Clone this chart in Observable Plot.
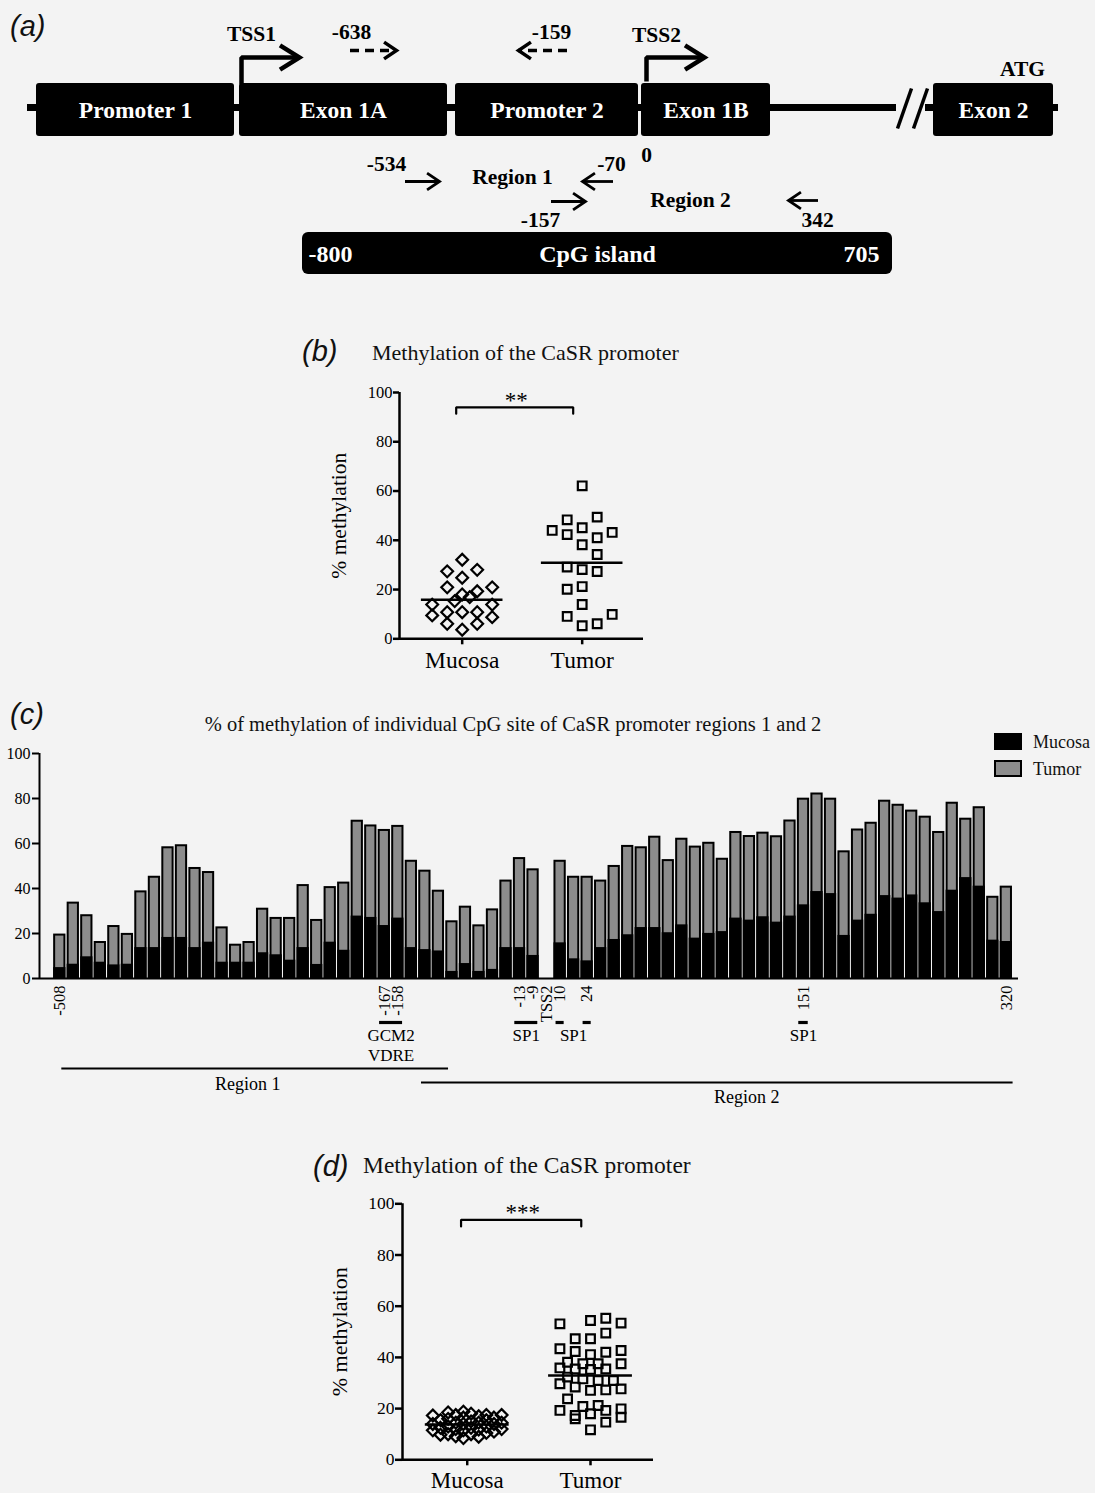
<!DOCTYPE html>
<html>
<head>
<meta charset="utf-8">
<script src="https://cdn.jsdelivr.net/npm/d3@7"></script>
<script src="https://cdn.jsdelivr.net/npm/@observablehq/plot@0.6"></script>
<style>
html,body{margin:0;padding:0;background:#f3f3f3;}
#page{position:relative;width:1095px;height:1493px;overflow:hidden;background:#f3f3f3;}
#page > svg{position:absolute;}
</style>
</head>
<body>
<div id="page"></div>
<script>
// ================= DATA =================
// ---- panel (a): schematic of the CaSR 5' region (schematic units) ----
const aGeneBoxes = [
  {label: "Promoter 1", start: 36, end: 234},
  {label: "Exon 1A", start: 239, end: 447},
  {label: "Promoter 2", start: 455, end: 638},
  {label: "Exon 1B", start: 641, end: 770},
  {label: "Exon 2", start: 933, end: 1053}
];
const aBackbone = [{start: 27, end: 896}, {start: 925, end: 1058}];
const aBreak = [{x1: 897, y1: 128, x2: 911, y2: 88}, {x1: 913, y1: 128, x2: 927, y2: 88}];
const aTSS = [
  {label: "TSS1", x: 241, yBase: 84, yTop: 57, xEnd: 299},
  {label: "TSS2", x: 646, yBase: 81, yTop: 57, xEnd: 704}
];
const aPrimers = [
  {label: "-638", x1: 350, x2: 396, y: 50, dashed: true},
  {label: "-159", x1: 567, x2: 518, y: 50, dashed: true},
  {label: "-534", x1: 405, x2: 439, y: 181, dashed: false},
  {label: "-70", x1: 613, x2: 582, y: 181, dashed: false},
  {label: "-157", x1: 551, x2: 585, y: 201, dashed: false},
  {label: "342", x1: 818, x2: 788, y: 200, dashed: false}
];
const aTexts = [
  {text: "TSS1", x: 251, y: 34}, {text: "-638", x: 351, y: 32},
  {text: "-159", x: 551, y: 32}, {text: "TSS2", x: 656, y: 35},
  {text: "ATG", x: 1022, y: 69}, {text: "0", x: 646, y: 155},
  {text: "-534", x: 386, y: 164}, {text: "Region 1", x: 512, y: 177},
  {text: "-70", x: 611, y: 164}, {text: "-157", x: 540, y: 220},
  {text: "Region 2", x: 690, y: 200}, {text: "342", x: 817, y: 220}
];
const aCpG = {label: "CpG island", start: 302, end: 892, from: "-800", to: "705"};

// ---- panel (b): % methylation, 20 mucosa / 20 tumor ----
const groups = ["Mucosa", "Tumor"];
const bMucosa     = [32.1, 27.4, 28.0, 24.8, 20.9, 20.9, 19.3, 18.0, 16.9, 15.3, 13.9, 13.9, 10.8, 10.8, 10.8, 9.5, 8.8, 6.1, 6.1, 3.7];
const bMucosaCol  = [0, -2, 2, 0, -2, 4, 2, 0, 1, -1, -4, 4, -2, 0, 2, -4, 4, -2, 2, 0];
const bTumor      = [62.1, 48.3, 49.4, 44.0, 45.1, 42.3, 41.0, 43.2, 38.2, 34.2, 29.1, 28.1, 27.3, 20.1, 21.2, 13.9, 9.1, 9.9, 5.3, 6.1];
const bTumorCol   = [0, -2, 2, -4, 0, -2, 2, 4, 0, 2, -2, 0, 2, -2, 0, 0, -2, 4, 0, 2];
const bSignif = "**";

// ---- panel (c): % methylation of individual CpG sites ----
const cTumor = [19.3, 33.5, 27.9, 16.0, 23.1, 19.6, 38.5, 45.0, 58.1, 59.0, 48.9, 47.1, 22.5, 14.8, 16.0, 30.8, 26.7, 26.7,
  41.3, 25.8, 40.4, 42.4, 69.9, 67.8, 65.8, 67.6, 52.1, 47.7, 38.8, 25.2, 31.7, 23.4, 30.5, 43.3, 53.3, 48.3,
  52.1, 45.0, 45.0, 43.3, 49.8, 58.7, 58.1, 62.8, 52.4, 61.9, 58.4, 60.1, 53.0, 64.9, 63.1, 64.6, 63.0, 70.0,
  79.7, 82.0, 79.7, 56.3, 66.0, 69.0, 78.8, 77.0, 74.4, 71.7, 64.9, 77.9, 70.8, 75.9, 36.1, 40.6];
const cMucosa = [4.4, 5.9, 9.2, 6.8, 5.6, 5.9, 13.3, 13.3, 17.8, 17.8, 13.3, 15.7, 6.8, 6.8, 6.8, 11.0, 10.1, 7.7,
  13.3, 5.8, 15.7, 12.1, 27.3, 26.7, 23.1, 26.4, 13.3, 12.4, 11.8, 2.7, 6.2, 2.7, 3.6, 13.3, 13.3, 9.8,
  15.4, 8.3, 7.4, 13.3, 16.9, 19.0, 22.2, 22.2, 19.9, 23.4, 17.5, 19.6, 20.4, 26.4, 25.5, 27.0, 24.6, 27.3,
  32.3, 38.2, 37.3, 18.7, 25.5, 28.1, 36.4, 35.3, 36.7, 33.2, 29.3, 38.8, 44.4, 40.6, 16.6, 16.0];
const cGapSlot = 36; // TSS2 position, no CpG bar
const cTickSlots  = [0, 24, 25, 34, 35, 36, 37, 39, 55, 70];
const cTickLabels = ["-508", "-167", "-158", "-13", "-9", "TSS2", "10", "24", "151", "320"];
const cMotifs = [
  {label: "GCM2\nVDRE", sites: ["-167", "-158"], joined: true},
  {label: "SP1", sites: ["-13", "-9"], joined: true},
  {label: "SP1", sites: ["10", "24"], joined: false},
  {label: "SP1", sites: ["151"], joined: true}
];
const cRegions = [
  {name: "Region 1", from: 0.15, to: 28.75, labelAt: 13.9},
  {name: "Region 2", from: 26.75, to: 70.5, labelAt: 50.8}
];
const cTitle = "% of methylation of individual CpG site of CaSR promoter regions 1 and 2";

// ---- panel (d): % methylation, larger series ----
const dMucosa    = [17.3, 14.0, 11.5, 15.5, 12.5, 9.8, 18.5, 16.0, 13.0, 10.0, 17.5, 14.5, 12.0, 9.2, 18.8, 16.5, 14.0, 11.5, 8.5,
  18.0, 15.0, 12.5, 10.0, 17.0, 14.5, 11.8, 9.0, 17.5, 15.5, 13.0, 10.5, 16.5, 14.0, 11.0, 17.5, 14.5, 12.0];
const dMucosaCol = [-4.5, -4.5, -4.5, -3.5, -3.5, -3.5, -2.5, -2.5, -2.5, -2.5, -1.5, -1.5, -1.5, -1.5, -0.5, -0.5, -0.5, -0.5, -0.5,
  0.5, 0.5, 0.5, 0.5, 1.5, 1.5, 1.5, 1.5, 2.5, 2.5, 2.5, 2.5, 3.5, 3.5, 3.5, 4.5, 4.5, 4.5];
const dTumor    = [53.1, 54.4, 55.3, 53.4, 47.3, 47.3, 49.5, 43.4, 42.3, 41.1, 42.0, 42.7, 38.1, 37.5, 37.5, 35.9, 35.5, 35.3, 35.5, 37.5,
  29.7, 32.3, 31.6, 31.0, 31.0, 28.4, 27.1, 27.3, 27.7, 23.8, 20.8, 21.2, 19.3, 17.3, 18.0, 19.3, 19.9, 16.6, 14.7, 16.0, 11.7];
const dTumorCol = [-4, 0, 2, 4, -2, 0, 2, -4, -2, 0, 2, 4, -3, -1, 1, -4, -2, 0, 2, 4,
  -4, -3, -1, 1, 3, -2, 0, 2, 4, -3, -1, 1, -4, -2, 0, 2, 4, 4, 2, -2, 0];
const dSignif = "***";

const yTicks = [0, 20, 40, 60, 80, 100];
const panelTitle = "Methylation of the CaSR promoter";
const yLabel = "% methylation";

// ================= RENDER =================
const serif = "'Liberation Serif','Times New Roman',Times,serif";
const sans = "'Liberation Sans',Arial,Helvetica,sans-serif";
const page = document.getElementById("page");
function place(svg, left, top) {
  svg.style.left = left + "px";
  svg.style.top = top + "px";
  page.appendChild(svg);
}
const baseStyle = {background: "transparent", color: "#000", fontFamily: serif, overflow: "visible"};

// chevron arrow head (tip at origin, pointing "up" before rotation)
function chevron(deg) {
  const t = deg * Math.PI / 180;
  return {draw(context, l) {
    const a = l * Math.sin(t), b = l * Math.cos(t);
    context.moveTo(-a, b); context.lineTo(0, 0); context.lineTo(a, b);
  }};
}

// ---------- panel (a) ----------
const boldText = {fontFamily: serif, fontWeight: "bold"};
const plotA = Plot.plot({
  width: 1095, height: 290, margin: 0,
  x: {domain: [0, 1095], range: [0, 1095], axis: null},
  y: {domain: [0, 290], range: [0, 290], axis: null},
  style: baseStyle,
  marks: [
    Plot.ruleY(aBackbone, {x1: "start", x2: "end", y: 107, strokeWidth: 7}),
    Plot.link(aBreak, {x1: "x1", y1: "y1", x2: "x2", y2: "y2", strokeWidth: 3.5}),
    Plot.rect(aGeneBoxes, {x1: "start", x2: "end", y1: 83, y2: 136, fill: "#000", rx: 3}),
    Plot.text(aGeneBoxes, {x: d => (d.start + d.end) / 2, y: 110, text: "label", fill: "#fff", fontSize: 23.5, ...boldText}),
    Plot.line(aTSS.flatMap(d => [
      {z: d.label, x: d.x, y: d.yBase}, {z: d.label, x: d.x, y: d.yTop}, {z: d.label, x: d.xEnd, y: d.yTop}
    ]), {x: "x", y: "y", z: "z", strokeWidth: 4.5, strokeLinejoin: "miter", strokeLinecap: "butt"}),
    Plot.vector(aTSS, {x: "xEnd", y: "yTop", rotate: 90, length: 23, anchor: "start", shape: chevron(32),
      strokeWidth: 4.5, strokeLinejoin: "miter", strokeLinecap: "butt"}),
    Plot.ruleY(aPrimers.filter(d => d.dashed), {x1: "x1", x2: "x2", y: "y", strokeWidth: 3.5, strokeDasharray: "9,6"}),
    Plot.ruleY(aPrimers.filter(d => !d.dashed), {x1: "x1", x2: "x2", y: "y", strokeWidth: 2.8}),
    Plot.vector(aPrimers, {x: "x2", y: "y", rotate: d => d.x2 > d.x1 ? 90 : -90, length: 15, anchor: "start",
      shape: chevron(34), strokeWidth: d => d.dashed ? 3.5 : 2.8, strokeLinejoin: "miter", strokeLinecap: "butt"}),
    Plot.text(aTexts, {x: "x", y: "y", text: "text", fontSize: 21.5, ...boldText}),
    Plot.rect([aCpG], {x1: "start", x2: "end", y1: 232, y2: 274, fill: "#000", rx: 6}),
    Plot.text([aCpG], {x: d => (d.start + d.end) / 2, y: 254, text: "label", fill: "#fff", fontSize: 24, ...boldText}),
    Plot.text([aCpG], {x: "start", y: 254, dx: 6, text: "from", textAnchor: "start", fill: "#fff", fontSize: 24, ...boldText}),
    Plot.text([aCpG], {x: "end", y: 254, dx: -13, text: "to", textAnchor: "end", fill: "#fff", fontSize: 24, ...boldText})
  ]
});
place(plotA, 0, 0);

// ---------- scatter panels (b) and (d) ----------
function scatterPanel(cfg) {
  const pts = [
    ...cfg.mucosa.map((v, i) => ({g: 0, v, col: cfg.mucosaCol[i]})),
    ...cfg.tumor.map((v, i) => ({g: 1, v, col: cfg.tumorCol[i]}))
  ];
  const means = [0, 1].map(g => ({g, v: d3.mean(pts.filter(p => p.g === g), p => p.v)}));
  const xmin = cfg.xDomain[0];
  const lvl = cfg.bracketLevel;
  const bracket = [
    {x: -0.05, y: lvl - 2.6}, {x: -0.05, y: lvl}, {x: 1 - 0.075, y: lvl}, {x: 1 - 0.075, y: lvl - 2.6}
  ];
  const xs = d => d.g + d.col * cfg.colStep;
  return Plot.plot({
    width: 360, height: cfg.height,
    marginLeft: cfg.marginLeft, marginRight: cfg.marginRight, marginTop: cfg.marginTop, marginBottom: cfg.marginBottom,
    x: {domain: cfg.xDomain},
    y: {domain: [0, 100]},
    style: baseStyle,
    marks: [
      Plot.axisY({ticks: yTicks, tickSize: cfg.tickSize, tickPadding: 1, fontSize: cfg.tickFont, tickFormat: d => String(d),
        strokeWidth: 2.5, label: null, fontFamily: serif}),
      Plot.axisX({ticks: [0, 1], tickFormat: i => groups[i], tickSize: 6, tickPadding: cfg.catPad,
        fontSize: cfg.catFont, strokeWidth: 2.5, label: null, fontFamily: serif}),
      Plot.ruleX([xmin], {y1: 0, y2: 100, strokeWidth: 2.5}),
      Plot.ruleY([0], {strokeWidth: 2.5}),
      Plot.text([yLabel], {frameAnchor: "left", textAnchor: "middle", rotate: -90, dx: cfg.labelDx,
        fontSize: cfg.labelFont, fontFamily: serif}),
      Plot.dot(pts.filter(p => p.g === 0), {x: xs, y: "v", symbol: "diamond2", r: 5.3, stroke: "#000", strokeWidth: 2.2, fill: "none"}),
      Plot.dot(pts.filter(p => p.g === 1), {x: xs, y: "v", symbol: "square", r: 4.9, stroke: "#000", strokeWidth: 2.2, fill: "none"}),
      Plot.ruleY(means, {x1: d => d.g - 0.34, x2: d => d.g + 0.34, y: "v", strokeWidth: 2.5}),
      Plot.line(bracket, {x: "x", y: "y", strokeWidth: 2.2, strokeLinejoin: "miter"}),
      Plot.text([cfg.signif], {x: 0.45, y: lvl, dy: -7, fontSize: 23, fontFamily: serif})
    ]
  });
}

const plotB = scatterPanel({
  mucosa: bMucosa, mucosaCol: bMucosaCol, tumor: bTumor, tumorCol: bTumorCol, signif: bSignif,
  height: 305, marginLeft: 99, marginRight: 17, marginTop: 17, marginBottom: 41.7,
  xDomain: [-0.5225, 1.511], colStep: 0.0625, tickSize: 6, tickFont: 16.5, catPad: 7, catFont: 23.5,
  labelDx: -60, labelFont: 21.5, bracketLevel: 94
});
place(plotB, 300, 375);

const plotD = scatterPanel({
  mucosa: dMucosa, mucosaCol: dMucosaCol, tumor: dTumor, tumorCol: dTumorCol, signif: dSignif,
  height: 308, marginLeft: 102, marginRight: 7, marginTop: 18.3, marginBottom: 33.7,
  xDomain: [-0.525, 1.511], colStep: 0.062, tickSize: 7, tickFont: 17.5, catPad: 6, catFont: 23,
  labelDx: -63, labelFont: 22, bracketLevel: 93.75
});
place(plotD, 300, 1185);

// ---------- panel (c) ----------
const cSlots = cTumor.map((_, i) => i < cGapSlot ? i : i + 1);
const cBars = cTumor.map((t, i) => ({slot: cSlots[i], tumor: t, mucosa: cMucosa[i]}));
const slotOf = lab => cTickSlots[cTickLabels.indexOf(lab)];
const cMotifSegs = cMotifs.flatMap(m => {
  const s = m.sites.map(slotOf);
  return m.joined ? [{from: d3.min(s) - 0.35, to: d3.max(s) + 0.35}] : s.map(v => ({from: v - 0.3, to: v + 0.3}));
});
const cMotifLabels = cMotifs.map(m => ({label: m.label, at: d3.mean(m.sites.map(slotOf))}));
const half = 0.38;
const cx0 = -1.5;
const plotC = Plot.plot({
  width: 1095, height: 365, marginLeft: 39, marginRight: 77, marginTop: 8, marginBottom: 132,
  x: {domain: [cx0, 70.9]},
  y: {domain: [0, 100]},
  style: baseStyle,
  marks: [
    Plot.rect(cBars, {x1: d => d.slot - half, x2: d => d.slot + half, y1: 0, y2: "tumor", fill: "#8c8c8c", stroke: "#000", strokeWidth: 2}),
    Plot.rect(cBars, {x1: d => d.slot - half, x2: d => d.slot + half, y1: 0, y2: "mucosa", fill: "#000", stroke: "#000", strokeWidth: 2}),
    Plot.ruleX([cx0], {y1: 0, y2: 100, strokeWidth: 2}),
    Plot.ruleY([0], {strokeWidth: 2}),
    Plot.axisY({ticks: yTicks, tickSize: 7, tickPadding: 2, fontSize: 16, tickFormat: d => String(d), strokeWidth: 2, label: null, fontFamily: serif}),
    Plot.axisX({ticks: cTickSlots, tickFormat: s => cTickLabels[cTickSlots.indexOf(s)], tickRotate: -90, tickSize: 0,
      tickPadding: 7, fontSize: 16.5, label: null, fontFamily: serif}),
    Plot.ruleY(cMotifSegs, {x1: "from", x2: "to", y: 0, dy: 44, strokeWidth: 3.2}),
    Plot.text(cMotifLabels, {x: "at", y: 0, dy: 49, text: "label", lineAnchor: "top", lineHeight: 1.15, fontSize: 17, fontFamily: serif}),
    ...cRegions.map((r, i) => Plot.ruleY([r], {x1: "from", x2: "to", y: 0, dy: 90 + 14 * i, strokeWidth: 2.2})),
    ...cRegions.map((r, i) => Plot.text([r], {x: "labelAt", y: 0, dy: 99 + 13 * i, text: "name", lineAnchor: "top", fontSize: 18, fontFamily: serif}))
  ]
});
place(plotC, 0, 745);

// ---------- overlay: panel letters, titles, legend ----------
const ov = d3.create("svg").attr("width", 1095).attr("height", 1493)
  .style("left", "0px").style("top", "0px").style("pointer-events", "none");
const letters = [["(a)", 10, 36], ["(b)", 302, 361], ["(c)", 10, 724], ["(d)", 313, 1176]];
ov.selectAll("text.letter").data(letters).join("text")
  .attr("x", d => d[1]).attr("y", d => d[2]).text(d => d[0])
  .attr("font-family", sans).attr("font-style", "italic").attr("font-size", 29).attr("fill", "#111");
const titles = [
  {t: panelTitle, x: 372, y: 360, size: 22, anchor: "start"},
  {t: panelTitle, x: 363, y: 1173, size: 23.5, anchor: "start"},
  {t: cTitle, x: 513, y: 731, size: 20.5, anchor: "middle"}
];
ov.selectAll("text.title").data(titles).join("text")
  .attr("x", d => d.x).attr("y", d => d.y).attr("text-anchor", d => d.anchor).text(d => d.t)
  .attr("font-family", serif).attr("font-size", d => d.size).attr("fill", "#111");
const legend = [{name: "Mucosa", fill: "#000", y: 734}, {name: "Tumor", fill: "#8c8c8c", y: 761}];
const lg = ov.append("g");
lg.selectAll("rect").data(legend).join("rect")
  .attr("x", 995).attr("y", d => d.y).attr("width", 26).attr("height", 15)
  .attr("fill", d => d.fill).attr("stroke", "#000").attr("stroke-width", 2);
lg.selectAll("text").data(legend).join("text")
  .attr("x", 1033).attr("y", d => d.y + 13.5).text(d => d.name)
  .attr("font-family", serif).attr("font-size", 18).attr("fill", "#111");
place(ov.node(), 0, 0);
</script>
</body>
</html>
